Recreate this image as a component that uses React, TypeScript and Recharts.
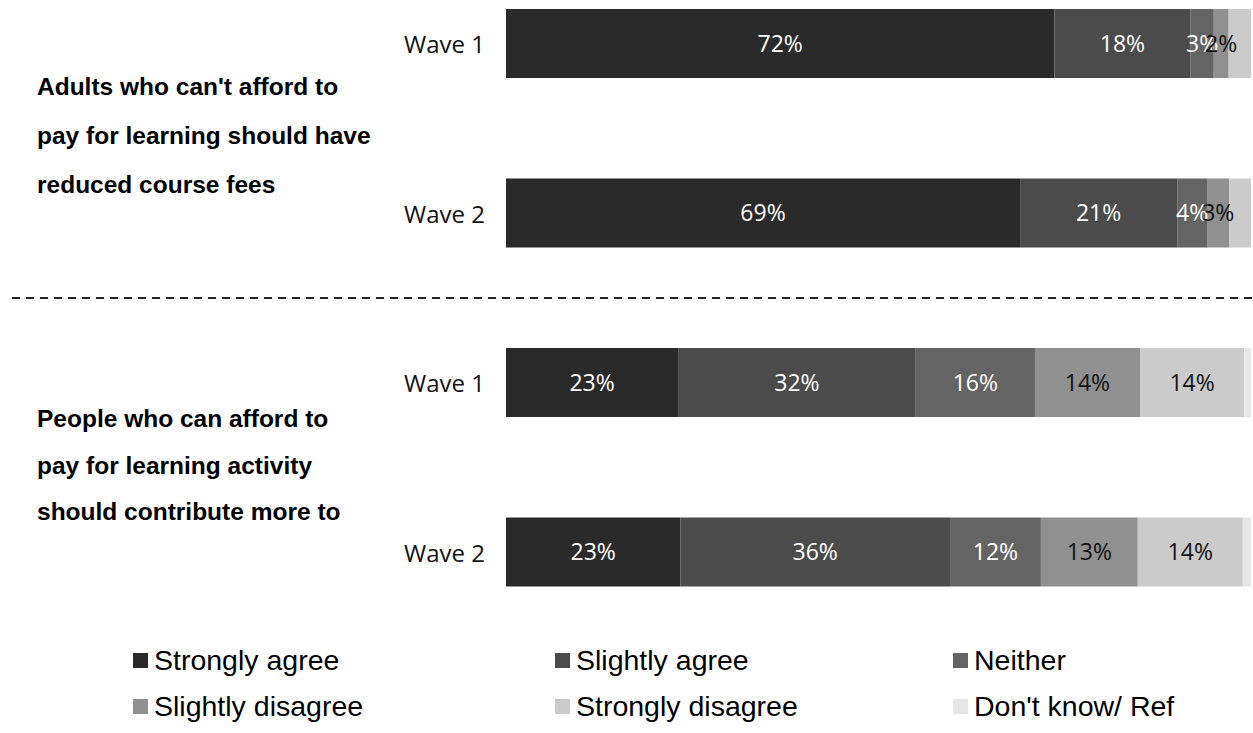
import { BarChart, Bar, XAxis, YAxis, LabelList } from "recharts"

// rows: two questions, two waves each
const rowKeys = ["q1w1", "q1w2", "q2w1", "q2w2"]
const waveLabels = ["Wave 1", "Wave 2", "Wave 1", "Wave 2"]

const seriesNames = [
  "Strongly agree",
  "Slightly agree",
  "Neither",
  "Slightly disagree",
  "Strongly disagree",
  "Don't know/ Ref",
]
const seriesColors = ["#2a2a2a", "#4b4b4b", "#646464", "#909090", "#cbcbcb", "#e6e6e6"]
const labelColors = ["#ffffff", "#ffffff", "#ffffff", "#111111", "#111111", "#111111"]

// segment shares (as drawn)
const stronglyAgree = [73.6, 69.0, 23.1, 23.4]
const slightlyAgree = [18.3, 21.1, 31.9, 36.2]
const neither = [3.1, 4.0, 16.0, 12.2]
const slightlyDisagree = [2.0, 3.0, 14.1, 13.0]
const stronglyDisagree = [3.0, 2.9, 14.0, 14.1]
const dontKnow = [0, 0, 0.9, 1.1]

// printed labels
const stronglyAgreeLabels = ["72%", "69%", "23%", "23%"]
const slightlyAgreeLabels = ["18%", "21%", "32%", "36%"]
const neitherLabels = ["3%", "4%", "16%", "12%"]
const slightlyDisagreeLabels = ["2%", "3%", "14%", "13%"]
const stronglyDisagreeLabels = ["", "", "14%", "14%"]
const dontKnowLabels = ["", "", "", ""]

const questionTitles = [
  ["Adults who can't afford to", "pay for learning should have", "reduced course fees"],
  ["People who can afford to", "pay for learning activity", "should contribute more to"],
]

const values = [stronglyAgree, slightlyAgree, neither, slightlyDisagree, stronglyDisagree, dontKnow]
const labels = [
  stronglyAgreeLabels,
  slightlyAgreeLabels,
  neitherLabels,
  slightlyDisagreeLabels,
  stronglyDisagreeLabels,
  dontKnowLabels,
]

const data = rowKeys.map((key, i) => {
  const row: any = { key, wave: waveLabels[i] }
  values.forEach((arr, s) => {
    row["s" + s] = arr[i]
    row["l" + s] = labels[s][i]
  })
  return row
})

const WaveTick = ({ x, y, index }: any) => (
  <text
    x={x}
    y={y}
    textAnchor="end"
    dominantBaseline="central"
    fontFamily="Open Sans"
    fontSize={24}
    fill="#111"
  >
    {waveLabels[index]}
  </text>
)

const legendCols = [133, 555, 953]
const legendRows = [660, 706]

export default function App() {
  return (
    <div style={{ position: "relative", width: 1253, height: 733, overflow: "hidden", background: "#fff" }}>
      <style>{`body{margin:0}`}</style>

      <div style={{ position: "absolute", left: 0, top: -41 }}>
        <BarChart
          width={1253}
          height={678}
          data={data}
          layout="vertical"
          margin={{ top: 0, right: 2, bottom: 0, left: 406 }}
          barSize={69}
        >
          <XAxis type="number" domain={[0, 100]} hide />
          <YAxis
            type="category"
            dataKey="key"
            width={100}
            axisLine={false}
            tickLine={false}
            tickSize={0}
            tickMargin={21}
            tick={<WaveTick />}
          />
          {seriesNames.map((name, s) => (
            <Bar
              key={name}
              dataKey={"s" + s}
              name={name}
              stackId="a"
              fill={seriesColors[s]}
              isAnimationActive={false}
            >
              <LabelList
                dataKey={"l" + s}
                position="center"
                fill={labelColors[s]}
                fontFamily="Open Sans"
                fontSize={23}
              />
            </Bar>
          ))}
        </BarChart>
      </div>

      {/* question titles */}
      {questionTitles.map((lines, q) => (
        <div
          key={q}
          style={{
            position: "absolute",
            left: 37,
            top: q === 0 ? 62 : 396,
            fontFamily: "Liberation Sans, Arial, sans-serif",
            fontWeight: "bold",
            fontSize: 24.5,
            lineHeight: q === 0 ? "49px" : "46.5px",
            color: "#000",
            whiteSpace: "nowrap",
          }}
        >
          {lines.map((l) => (
            <div key={l}>{l}</div>
          ))}
        </div>
      ))}

      {/* divider */}
      <svg style={{ position: "absolute", left: 0, top: 290 }} width={1253} height={16}>
        <line x1={12} y1={8} x2={1253} y2={8} stroke="#222" strokeWidth={2} strokeDasharray="8 6" />
      </svg>

      {/* legend */}
      {seriesNames.map((name, s) => (
        <div
          key={name}
          style={{
            position: "absolute",
            left: legendCols[s % 3],
            top: legendRows[Math.floor(s / 3)] - 18,
            height: 36,
            display: "flex",
            alignItems: "center",
            fontFamily: "Liberation Sans, Arial, sans-serif",
            fontSize: 28.5,
            color: "#000",
            whiteSpace: "nowrap",
          }}
        >
          <span
            style={{
              display: "inline-block",
              width: 15,
              height: 15,
              background: seriesColors[s],
              marginRight: 6,
            }}
          />
          {name}
        </div>
      ))}
    </div>
  )
}
